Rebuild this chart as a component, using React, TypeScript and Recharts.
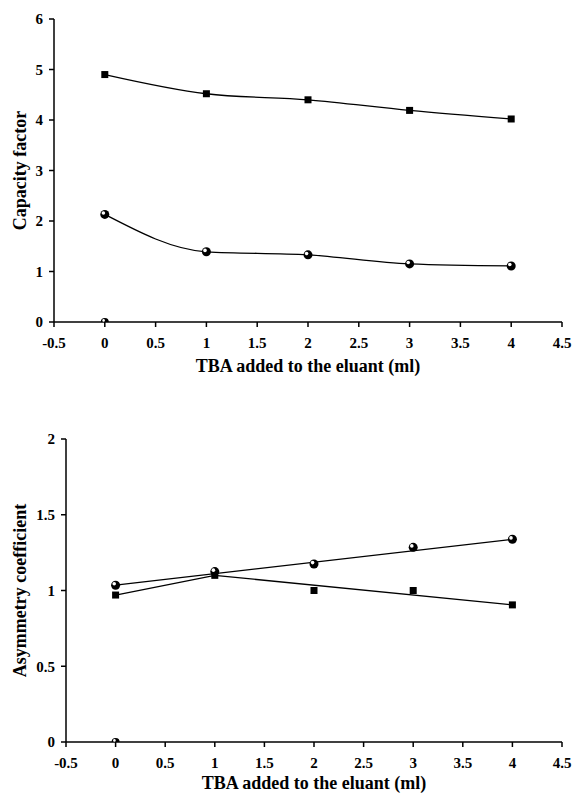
import { ComposedChart, Line, XAxis, YAxis } from "recharts";

const xTicks = [-0.5, 0, 0.5, 1, 1.5, 2, 2.5, 3, 3.5, 4, 4.5];
const capacityTicks = [0, 1, 2, 3, 4, 5, 6];
const asymmetryTicks = [0, 0.5, 1, 1.5, 2];

const tbaVolumes = [0, 1, 2, 3, 4];

// capacity factor (top panel)
const capacitySquares = [4.9, 4.52, 4.4, 4.19, 4.02];
const capacityBalls = [2.13, 1.39, 1.33, 1.15, 1.11];

// asymmetry coefficient (bottom panel)
const asymmetrySquares = [0.97, 1.1, 1.0, 1.0, 0.905];
const asymmetryBalls = [1.035, 1.125, 1.175, 1.285, 1.338];

// trend lines drawn in the bottom panel
const squareTrendX = [0, 1, 4];
const squareTrendY = [0.97, 1.1, 0.905];
const ballTrendX = [0, 4];
const ballTrendY = [1.035, 1.338];

const strayPoint = [{ x: 0, y: 0 }];

const zip = (xs: number[], ys: number[]) => xs.map((x, i) => ({ x, y: ys[i] }));

const FONT = "Liberation Serif, DejaVu Serif, serif";
const tickStyle = { fontFamily: FONT, fontWeight: 700, fontSize: 15, fill: "#000" };

const SquareDot = (props: any) => {
  const { cx, cy } = props;
  if (cx == null || cy == null) return null;
  return <rect key={`s-${cx}`} x={cx - 3.5} y={cy - 3.5} width={7} height={7} fill="#000" />;
};

const BallDot = (props: any) => {
  const { cx, cy } = props;
  if (cx == null || cy == null) return null;
  return (
    <g key={`b-${cx}`}>
      <circle cx={cx} cy={cy} r={4.5} fill="#000" />
      <circle cx={cx - 1.4} cy={cy - 1.4} r={1.8} fill="#fff" />
    </g>
  );
};

const HalfBall = (props: any) => {
  const { cx, cy } = props;
  if (cx == null || cy == null) return null;
  return (
    <g key={`h-${cx}`}>
      <path d={`M ${cx - 4} ${cy} A 4 4 0 0 1 ${cx + 4} ${cy} Z`} fill="#000" />
      <circle cx={cx - 1.2} cy={cy - 1.6} r={1.3} fill="#fff" />
    </g>
  );
};

const xLabel = (offset: number) => (props: any) => {
  const { x, y, width } = props.viewBox;
  return (
    <text
      x={x + width / 2}
      y={y + offset}
      textAnchor="middle"
      fontFamily={FONT}
      fontWeight={700}
      fontSize={18}
      fill="#000"
    >
      TBA added to the eluant (ml)
    </text>
  );
};

const yLabel = (text: string) => (props: any) => {
  const { y, height } = props.viewBox;
  const cy = y + height / 2;
  return (
    <text
      x={20}
      y={cy}
      transform={`rotate(-90 20 ${cy})`}
      textAnchor="middle"
      dominantBaseline="central"
      fontFamily={FONT}
      fontWeight={700}
      fontSize={18}
      fill="#000"
    >
      {text}
    </text>
  );
};

function Panel({
  top,
  yWidth,
  yTicks,
  yDomain,
  yTitle,
  labelOffset,
  children,
}: {
  top: number;
  yWidth: number;
  yTicks: number[];
  yDomain: [number, number];
  yTitle: string;
  labelOffset: number;
  children: any;
}) {
  return (
    <ComposedChart width={573} height={395} margin={{ top, right: 11, bottom: 73 - 51 - (top - 19), left: 0 }}>
      <XAxis
        type="number"
        dataKey="x"
        domain={[-0.5, 4.5]}
        ticks={xTicks}
        allowDataOverflow
        height={51}
        stroke="#000"
        strokeWidth={1.5}
        tickSize={5}
        tickMargin={10}
        tick={tickStyle}
        label={{ content: xLabel(labelOffset) }}
      />
      <YAxis
        type="number"
        dataKey="y"
        domain={yDomain}
        ticks={yTicks}
        width={yWidth}
        stroke="#000"
        strokeWidth={1.5}
        tickSize={5}
        tickMargin={6}
        tick={tickStyle}
        label={{ content: yLabel(yTitle) }}
      />
      {children}
    </ComposedChart>
  );
}

export default function App() {
  return (
    <div style={{ position: "absolute", left: 0, top: 0, width: 573, height: 795, background: "#fff" }}>
      <div style={{ position: "absolute", left: 0, top: 0 }}>
        <Panel top={19} yWidth={54} yTicks={capacityTicks} yDomain={[0, 6]} yTitle="Capacity factor" labelOffset={50}>
          <Line
            data={zip(tbaVolumes, capacitySquares)}
            dataKey="y"
            type="monotone"
            stroke="#000"
            strokeWidth={1.3}
            dot={SquareDot}
            activeDot={false}
            isAnimationActive={false}
          />
          <Line
            data={zip(tbaVolumes, capacityBalls)}
            dataKey="y"
            type="monotone"
            stroke="#000"
            strokeWidth={1.3}
            dot={BallDot}
            activeDot={false}
            isAnimationActive={false}
          />
          <Line data={strayPoint} dataKey="y" stroke="none" dot={HalfBall} activeDot={false} isAnimationActive={false} />
        </Panel>
      </div>
      <div style={{ position: "absolute", left: 0, top: 400 }}>
        <Panel top={39} yWidth={66} yTicks={asymmetryTicks} yDomain={[0, 2]} yTitle="Asymmetry coefficient" labelOffset={47}>
          <Line
            data={zip(squareTrendX, squareTrendY)}
            dataKey="y"
            type="linear"
            stroke="#000"
            strokeWidth={1.3}
            dot={false}
            activeDot={false}
            isAnimationActive={false}
          />
          <Line
            data={zip(ballTrendX, ballTrendY)}
            dataKey="y"
            type="linear"
            stroke="#000"
            strokeWidth={1.3}
            dot={false}
            activeDot={false}
            isAnimationActive={false}
          />
          <Line data={zip(tbaVolumes, asymmetrySquares)} dataKey="y" stroke="none" dot={SquareDot} activeDot={false} isAnimationActive={false} />
          <Line data={zip(tbaVolumes, asymmetryBalls)} dataKey="y" stroke="none" dot={BallDot} activeDot={false} isAnimationActive={false} />
          <Line data={strayPoint} dataKey="y" stroke="none" dot={HalfBall} activeDot={false} isAnimationActive={false} />
        </Panel>
      </div>
    </div>
  );
}
